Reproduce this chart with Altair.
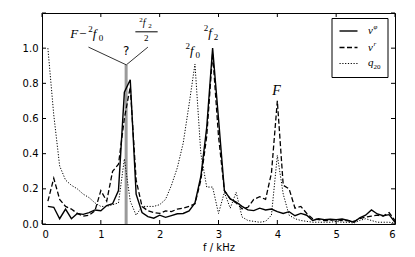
import altair as alt
import pandas as pd

# ---------------- data ----------------
freq = [0.1, 0.2, 0.3, 0.4, 0.5, 0.6, 0.7, 0.8, 0.9, 1.0,
        1.1, 1.2, 1.3, 1.4, 1.5, 1.6, 1.7, 1.8, 1.9, 2.0,
        2.1, 2.2, 2.3, 2.4, 2.5, 2.6, 2.7, 2.8, 2.9, 3.0,
        3.1, 3.2, 3.3, 3.4, 3.5, 3.6, 3.7, 3.8, 3.9, 4.0,
        4.1, 4.2, 4.3, 4.4, 4.5, 4.6, 4.7, 4.8, 4.9, 5.0,
        5.1, 5.2, 5.3, 5.4, 5.5, 5.6, 5.7, 5.8, 5.9, 6.0]

v_phi = [0.10, 0.095, 0.03, 0.085, 0.03, 0.06, 0.055, 0.065, 0.08, 0.075,
         0.105, 0.115, 0.19, 0.75, 0.82, 0.17, 0.065, 0.042, 0.033, 0.05,
         0.038, 0.048, 0.058, 0.06, 0.075, 0.12, 0.27, 0.55, 1.0, 0.6,
         0.19, 0.143, 0.125, 0.10, 0.08, 0.076, 0.09, 0.08, 0.085, 0.07,
         0.06, 0.07, 0.047, 0.06, 0.05, 0.02, 0.03, 0.025, 0.027, 0.025,
         0.028, 0.02, 0.01, 0.035, 0.05, 0.08, 0.057, 0.047, 0.053, 0.01]

v_r = [0.13, 0.26, 0.14, 0.10, 0.085, 0.06, 0.045, 0.05, 0.075, 0.19,
       0.13, 0.30, 0.34, 0.60, 0.78, 0.25, 0.10, 0.075, 0.065, 0.06,
       0.075, 0.07, 0.085, 0.09, 0.10, 0.115, 0.25, 0.5, 0.97, 0.5,
       0.19, 0.143, 0.12, 0.086, 0.095, 0.14, 0.155, 0.14, 0.29, 0.70,
       0.22, 0.20, 0.09, 0.10, 0.06, 0.03, 0.025, 0.02, 0.02, 0.025,
       0.02, 0.02, 0.015, 0.03, 0.04, 0.045, 0.05, 0.045, 0.065, 0.02]

q20 = [1.0, 0.62, 0.33, 0.25, 0.22, 0.20, 0.17, 0.15, 0.12, 0.10,
       0.10, 0.11, 0.12, 0.37, 0.13, 0.05, 0.10, 0.10, 0.10, 0.11,
       0.14, 0.22, 0.32, 0.46, 0.68, 0.91, 0.40, 0.21, 0.21, 0.06,
       0.18, 0.09, 0.18, 0.04, 0.02, 0.015, 0.01, 0.015, 0.05, 0.39,
       0.17, 0.05, 0.03, 0.02, 0.015, 0.01, 0.01, 0.01, 0.01, 0.015,
       0.01, 0.01, 0.005, 0.02, 0.03, 0.02, 0.01, 0.01, 0.01, 0.005]

x_ticks = [0, 1, 2, 3, 4, 5, 6]
y_labels = [0.0, 0.2, 0.4, 0.6, 0.8, 1.0]
y_ticks = [0.0, 0.2, 0.4, 0.6, 0.8, 1.0, 1.2]
x_domain = [0, 6]
y_domain = [0, 1.2]

# ---------------- tables ----------------
n = len(freq)
long = pd.DataFrame({
    "f": freq * 3,
    "v": v_phi + v_r + q20,
    "s": ["vphi"] * n + ["vr"] * n + ["q20"] * n,
})
xt = pd.DataFrame({"f": x_ticks})
yt = pd.DataFrame({"v": y_ticks})
one = pd.DataFrame({"k": [0]})

W, H = 353, 211
xsc = alt.Scale(domain=x_domain, nice=False, zero=False)
ysc = alt.Scale(domain=y_domain, nice=False)
X = alt.X("f:Q", scale=xsc, title="f / kHz",
          axis=alt.Axis(values=x_ticks, format="d"))
Y = alt.Y("v:Q", scale=ysc, title="",
          axis=alt.Axis(values=y_labels, format=".1f"))

BLK = "black"
SERIF = "Liberation Serif"


def line(series, **kw):
    return (alt.Chart(long).transform_filter(alt.datum.s == series)
            .mark_line(color=BLK, clip=True, **kw)
            .encode(x=X, y=Y, order="f:Q"))


# gray band marker
band = alt.Chart(one).mark_rule(color="#9a9a9a", strokeWidth=3).encode(
    x=alt.datum(1.43), y=alt.datum(0.0), y2=alt.datum(0.905))

solid = line("vphi", strokeWidth=1.4)
dashed = line("vr", strokeWidth=1.3, strokeDash=[5, 2.5])
dotted = line("q20", strokeWidth=1.0, strokeDash=[1.2, 1.6])

# inward ticks on all four sides
tb = alt.Chart(xt).mark_rule(color=BLK).encode(x=X, y=alt.value(H), y2=alt.value(H - 4))
tt = alt.Chart(xt).mark_rule(color=BLK).encode(x=X, y=alt.value(0), y2=alt.value(4))
tl = alt.Chart(yt).mark_rule(color=BLK).encode(y=Y, x=alt.value(0), x2=alt.value(4))
tr = alt.Chart(yt).mark_rule(color=BLK).encode(y=Y, x=alt.value(W - 4), x2=alt.value(W))


def dtext(txt, f, v, size, dx=0, dy=0, italic=True, font=SERIF, align="left"):
    kw = dict(text=txt, font=font, fontSize=size, align=align,
              baseline="alphabetic", color=BLK, dx=dx, dy=dy)
    if italic:
        kw["fontStyle"] = "italic"
    return alt.Chart(one).mark_text(**kw).encode(x=alt.datum(f), y=alt.datum(v))


def ptext(txt, x, y, size, italic=True, font=SERIF):
    kw = dict(text=txt, font=font, fontSize=size, align="left",
              baseline="alphabetic", color=BLK)
    if italic:
        kw["fontStyle"] = "italic"
    return alt.Chart(one).mark_text(**kw).encode(x=alt.value(x), y=alt.value(y))


def drule(f1, v1, f2, v2, color="#333333", width=1.0):
    return alt.Chart(one).mark_rule(color=color, strokeWidth=width).encode(
        x=alt.datum(f1), y=alt.datum(v1), x2=alt.datum(f2), y2=alt.datum(v2))


annot = [
    drule(0.79, 1.006, 1.433, 0.905),
    drule(1.80, 1.006, 1.433, 0.905),
    dtext("?", 1.433, 0.962, 12, italic=False, font="DejaVu Sans", align="center"),
    # F - 2f0
    dtext("F\u2212", 0.481, 1.057, 13),
    dtext("2", 0.481, 1.057, 9, dx=18, dy=-6, italic=False),
    dtext("f", 0.481, 1.057, 13, dx=22.5),
    dtext("0", 0.481, 1.057, 9, dx=28.5, dy=3, italic=False),
    # fraction 2f2 / 2
    drule(1.587, 1.093, 1.966, 1.093, color=BLK, width=1.0),
    dtext("2", 1.774, 1.093, 7, dx=-7, dy=-9.5, italic=False),
    dtext("f", 1.774, 1.093, 10, dx=-3.5, dy=-6),
    dtext("2", 1.774, 1.093, 7, dx=2, dy=-3.5, italic=False),
    dtext("2", 1.774, 1.093, 9, dx=0, dy=9.5, italic=False, align="center"),
    # 2f0
    dtext("2", 2.437, 0.959, 9, dy=-6, italic=False),
    dtext("f", 2.437, 0.959, 13, dx=4.5),
    dtext("0", 2.437, 0.959, 9, dx=10, dy=3, italic=False),
    # 2f2
    dtext("2", 2.748, 1.061, 9, dy=-6, italic=False),
    dtext("f", 2.748, 1.061, 13, dx=4.5),
    dtext("2", 2.748, 1.061, 9, dx=10, dy=3, italic=False),
    # F
    dtext("F", 3.912, 0.733, 14),
]

# legend box
lb = alt.Chart(one).mark_rect(fill="white", stroke=BLK, strokeWidth=1).encode(
    x=alt.value(290), x2=alt.value(346), y=alt.value(5.5), y2=alt.value(64.5))
l1 = alt.Chart(one).mark_rule(color=BLK, strokeWidth=1.4).encode(
    x=alt.value(297.5), x2=alt.value(315.5), y=alt.value(18))
l2 = alt.Chart(one).mark_rule(color=BLK, strokeWidth=1.3, strokeDash=[5, 2.5]).encode(
    x=alt.value(297.5), x2=alt.value(315.5), y=alt.value(34.5))
l3 = alt.Chart(one).mark_rule(color=BLK, strokeWidth=1.0, strokeDash=[1.2, 1.6]).encode(
    x=alt.value(297.5), x2=alt.value(315.5), y=alt.value(50.5))
legend = [
    lb, l1, l2, l3,
    ptext("v", 326, 20.5, 11),
    ptext("\u03c6", 331.5, 15.5, 7),
    ptext("v", 326, 37.5, 11),
    ptext("r", 331.5, 32.5, 7),
    ptext("q", 326, 53, 11),
    ptext("20", 331.5, 56, 7, italic=False),
]

chart = alt.layer(
    band, dotted, dashed, solid, tb, tt, tl, tr, *annot, *legend
).properties(
    width=W, height=H,
    background="white",
    autosize=alt.AutoSizeParams(type="none"),
    padding={"left": 34, "top": 5, "right": 12, "bottom": 32},
).configure_view(
    stroke=BLK, strokeWidth=1, fill="white"
).configure_axis(
    labelFont="DejaVu Sans", labelFontSize=10, labelColor=BLK,
    titleFont="DejaVu Sans", titleFontSize=10, titleColor=BLK,
    titleFontWeight="normal", ticks=False, tickSize=0, domain=False,
    grid=False, labelPadding=4
).configure_axisX(titlePadding=3, labelPadding=5)

chart.save("out.html", embed_options={"renderer": "svg", "actions": False})
